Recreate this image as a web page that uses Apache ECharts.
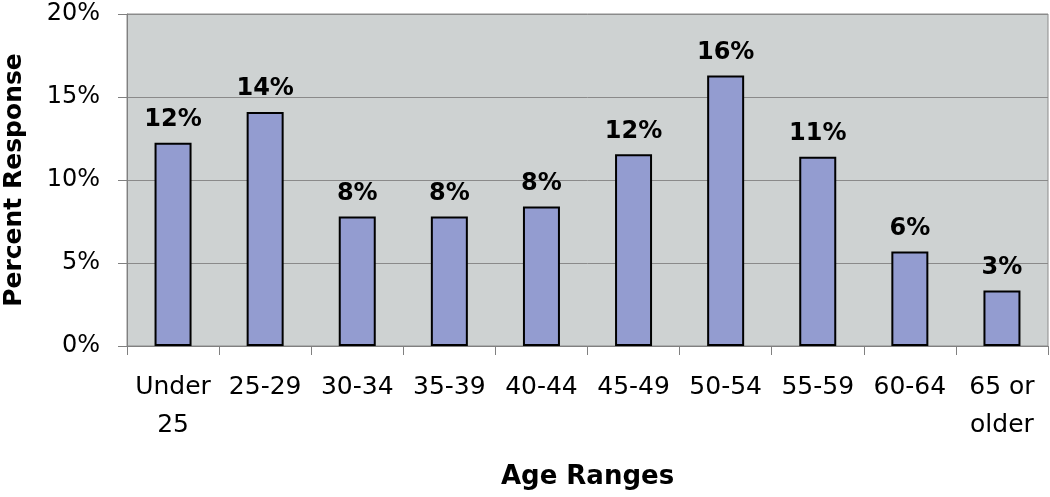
<!DOCTYPE html>
<html>
<head>
<meta charset="utf-8">
<script src="https://cdn.jsdelivr.net/npm/echarts@6/dist/echarts.min.js"></script>
<style>
html,body{margin:0;padding:0;background:#fff;}
#chart{width:1050px;height:497px;}
</style>
</head>
<body>
<div id="chart"></div>
<script>
const categories = ["Under\n25", "25-29", "30-34", "35-39", "40-44", "45-49", "50-54", "55-59", "60-64", "65 or\nolder"];
const responsePercent = [12.25, 14.1, 7.8, 7.8, 8.4, 11.55, 16.3, 11.4, 5.7, 3.35];
const labelText = ["12%", "14%", "8%", "8%", "8%", "12%", "16%", "11%", "6%", "3%"];
const yTicks = { min: 0, max: 20, interval: 5 };

const chart = echarts.init(document.getElementById('chart'));
const font = 'DejaVu Sans';
chart.setOption({
  animation: false,
  grid: {
    left: 127, right: 2, top: 14, bottom: 151,
    containLabel: false,
    outerBoundsMode: 'none',
    show: true, backgroundColor: '#CED2D2', borderColor: '#8C8C8C', borderWidth: 1
  },
  xAxis: {
    type: 'category',
    data: categories,
    name: 'Age Ranges',
    nameLocation: 'middle',
    nameGap: 118,
    nameTextStyle: { fontFamily: font, fontWeight: 'bold', fontSize: 26, color: '#000' },
    axisLine: { show: true, lineStyle: { color: '#808080', width: 1 } },
    axisTick: { show: true, length: 9, alignWithLabel: false, lineStyle: { color: '#808080' } },
    axisLabel: { fontFamily: font, fontSize: 25, color: '#000', margin: 22, lineHeight: 38, interval: 0 }
  },
  yAxis: {
    type: 'value',
    min: yTicks.min, max: yTicks.max, interval: yTicks.interval,
    name: 'Percent Response',
    nameLocation: 'middle',
    nameGap: 100,
    nameTextStyle: { fontFamily: font, fontWeight: 'bold', fontSize: 25, color: '#000' },
    axisLine: { show: true, lineStyle: { color: '#808080', width: 1 } },
    axisTick: { show: true, length: 9, lineStyle: { color: '#808080' } },
    axisLabel: { fontFamily: font, fontSize: 24, color: '#000', margin: 27, formatter: '{value}%' },
    splitLine: { show: true, lineStyle: { color: '#8A8A8A', width: 1 } }
  },
  series: [{
    type: 'bar',
    data: responsePercent,
    barWidth: 37,
    itemStyle: { color: '#939CD0', borderColor: '#000', borderWidth: 2 },
    label: {
      show: true, position: 'top', distance: 11,
      fontFamily: font, fontWeight: 'bold', fontSize: 24, color: '#000',
      formatter: p => labelText[p.dataIndex]
    }
  }]
});
</script>
</body>
</html>
